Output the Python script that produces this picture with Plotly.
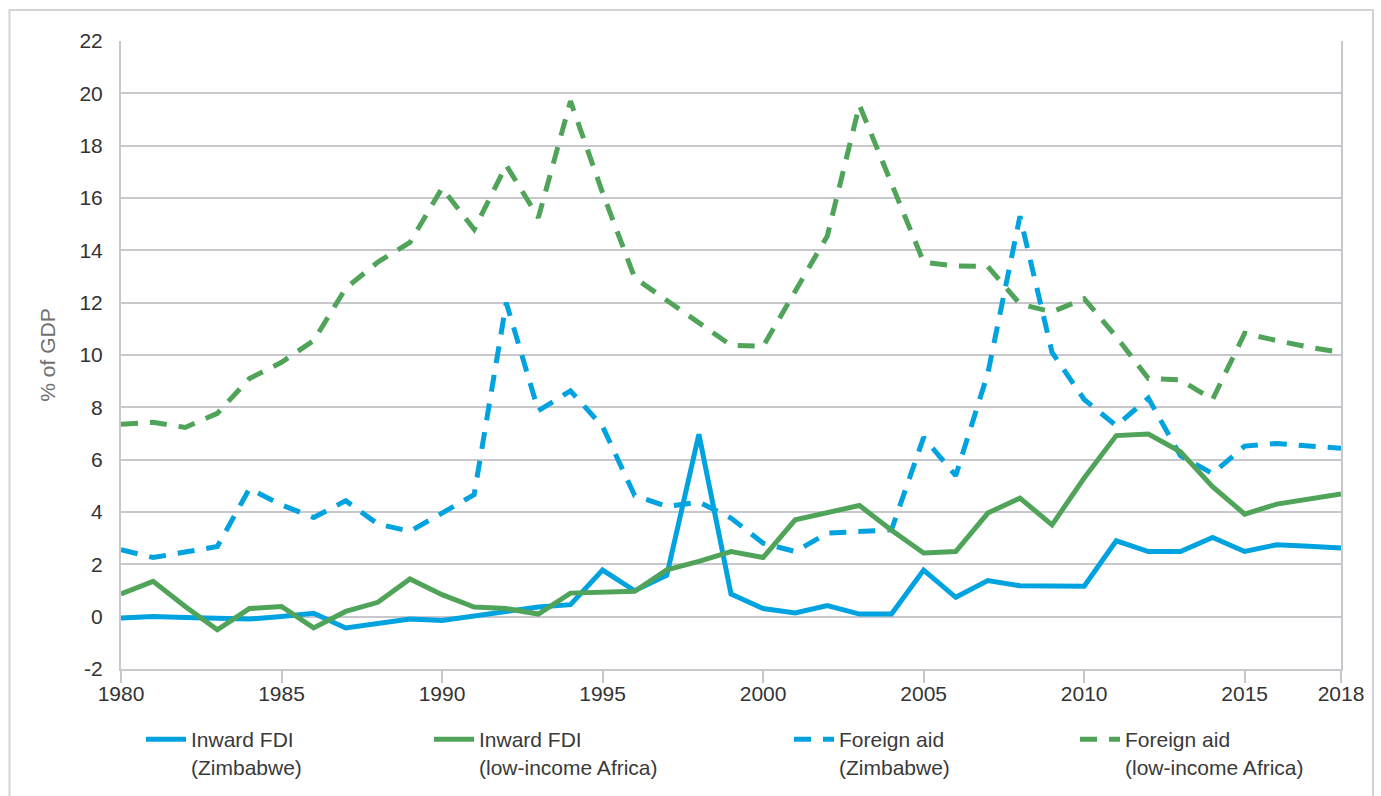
import plotly.graph_objects as go

# -- data (% of GDP) --------------------------------------------------------
years = list(range(1980, 2019))

fdi_zimbabwe = [-0.05, 0.01, -0.03, -0.08, -0.09, 0.01, 0.13, -0.43, -0.28, -0.09,
                -0.15, 0.01, 0.20, 0.37, 0.46, 1.78, 0.99, 1.58, 6.97, 0.87,
                0.31, 0.14, 0.42, 0.10, 0.10, 1.78, 0.74, 1.38, 1.18, 1.16,
                1.16, 2.90, 2.49, 2.49, 3.03, 2.49, 2.75, 2.69, 2.62]

fdi_low_income = [0.87, 1.35, 0.39, -0.50, 0.31, 0.39, -0.43, 0.20, 0.55, 1.44,
                  0.84, 0.37, 0.31, 0.10, 0.90, 0.93, 0.97, 1.79, 2.11, 2.49,
                  2.26, 3.70, 3.96, 4.25, 3.30, 2.43, 2.49, 3.96, 4.53, 3.51,
                  5.30, 6.92, 6.98, 6.30, 4.97, 3.92, 4.30, 4.50, 4.69]

aid_zimbabwe = [2.56, 2.26, 2.47, 2.68, 4.89, 4.27, 3.79, 4.43, 3.54, 3.26,
                3.96, 4.66, 12.00, 7.87, 8.63, 7.27, 4.63, 4.21, 4.38, 3.77,
                2.81, 2.49, 3.19, 3.26, 3.32, 6.85, 5.39, 9.30, 15.30, 10.10,
                8.30, 7.30, 8.35, 6.15, 5.47, 6.52, 6.62, 6.52, 6.44]

aid_low_income = [7.35, 7.43, 7.23, 7.77, 9.10, 9.72, 10.55, 12.55, 13.55, 14.30,
                  16.38, 14.80, 17.25, 15.25, 19.70, 16.20, 12.95, 12.10, 11.25, 10.37,
                  10.33, 12.40, 14.55, 19.55, 16.50, 13.55, 13.40, 13.38, 11.95, 11.65,
                  12.15, 10.70, 9.10, 9.05, 8.30, 10.83, 10.55, 10.30, 10.10]

x_ticks = [1980, 1985, 1990, 1995, 2000, 2005, 2010, 2015, 2018]
y_ticks = list(range(-2, 23, 2))

BLUE = "#00a3e0"
GREEN = "#4fa45a"
GRID = "#c8c8cc"
FONT = "Liberation Sans"

W, H = 1381, 796

series = [
    ("Inward FDI<br>(Zimbabwe)", fdi_zimbabwe, BLUE, "solid", "legend", 144),
    ("Inward FDI<br>(low-income Africa)", fdi_low_income, GREEN, "solid", "legend2", 432),
    ("Foreign aid<br>(Zimbabwe)", aid_zimbabwe, BLUE, "17px,12px", "legend3", 792),
    ("Foreign aid<br>(low-income Africa)", aid_low_income, GREEN, "17px,12px", "legend4", 1078),
]

fig = go.Figure()

# draw aid lines first so FDI lines sit on top
for name, vals, color, dash, leg, _ in series[2:] + series[:2]:
    fig.add_trace(go.Scatter(
        x=years, y=vals, name=name, mode="lines",
        line=dict(color=color, width=5, dash=dash),
        legend=leg,
    ))

# one legend per series so each entry sits where the original puts it
legend_style = dict(
    xref="container", yref="container", xanchor="left", yanchor="top",
    orientation="h", valign="top", itemwidth=40, bgcolor="rgba(0,0,0,0)",
    font=dict(family=FONT, size=21, color="#3a3a3a"),
)
legends = {}
for name, vals, color, dash, leg, x_px in series:
    legends[leg] = dict(legend_style, x=(x_px - 3) / W, y=1 - 719 / H)

# outer frame around the whole graphic
fig.add_shape(type="rect", xref="paper", yref="paper",
              x0=-0.0914, x1=1.0262, y0=-0.25, y1=1.0494,
              line=dict(color="#d3d3d3", width=2), layer="below")

fig.update_layout(
    width=W, height=H,
    margin=dict(l=121, r=40, t=41, b=127),
    plot_bgcolor="white", paper_bgcolor="white",
    font=dict(family=FONT, size=21, color="#333333"),
    showlegend=True,
    xaxis=dict(
        range=[1980, 2018], tickvals=x_ticks, ticktext=[str(v) for v in x_ticks],
        showgrid=False, zeroline=False,
        showline=True, linecolor=GRID, linewidth=2,
        ticks="outside", ticklen=12, tickwidth=1.5, tickcolor=GRID,
        ticklabelstandoff=-7,
        tickfont=dict(size=21, color="#333333"),
    ),
    yaxis=dict(
        range=[-2, 22], tickvals=y_ticks, ticktext=[str(v) for v in y_ticks],
        showgrid=True, gridcolor=GRID, gridwidth=2,
        zeroline=False,
        showline=True, linecolor=GRID, linewidth=2, mirror=True,
        ticks="outside", ticklen=12, tickcolor="rgba(0,0,0,0)",
        tickfont=dict(size=21, color="#333333"),
        title=dict(text="% of GDP", standoff=18,
                   font=dict(size=21, color="#707070")),
    ),
    **legends,
)

# page body margin would push the fixed-size figure off its place
fig.write_html("out.html", config={"displayModeBar": False},
               post_script="document.body.style.margin='0';")
